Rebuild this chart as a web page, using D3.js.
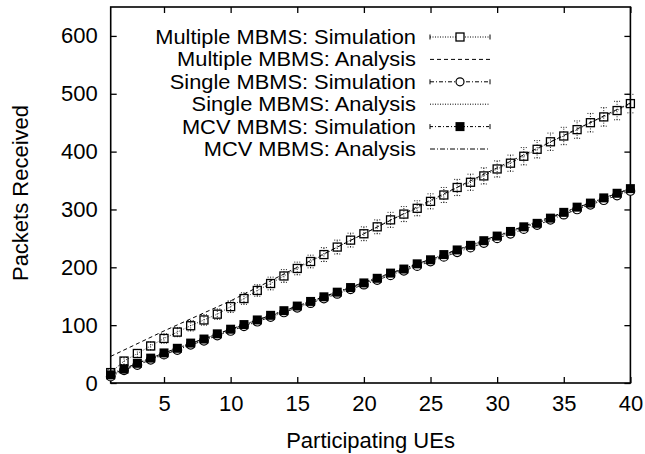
<!DOCTYPE html>
<html>
<head>
<meta charset="utf-8">
<title>packets received</title>
<style>
  html, body { margin: 0; padding: 0; background: #fff; }
  svg { display: block; font-family: "Liberation Sans", Arial, sans-serif; }
</style>
</head>
<body>
<svg id="chart" width="645" height="454"></svg>

<script src="https://cdn.jsdelivr.net/npm/d3@7"></script>
<script>
// x values: number of participating UEs
const ues = d3.range(1, 41);

// simulation results (one value per UE count)
const multipleSim = [18, 38, 51, 64, 77, 88, 99, 109, 119, 132, 146, 160, 172, 185, 198,
                     210, 222, 235, 247, 258, 270, 282, 292, 302, 314, 325, 338, 347, 358, 370,
                     380, 392, 404, 417, 427, 438, 450, 460, 471, 483];
const multipleErr = [5, 6, 7, 7, 8, 8, 9, 9, 9, 10, 10, 10, 11, 11, 11, 11, 12, 12, 12, 12,
                     12, 13, 13, 13, 13, 13, 14, 14, 14, 14, 14, 15, 15, 15, 15, 15, 16, 16, 16, 16];
const singleSim = [11, 22, 31, 40, 49, 57, 66, 73, 82, 90, 98, 106, 114, 122, 130,
                   138, 146, 154, 162, 170, 178, 186, 194, 202, 210, 218, 226, 234, 242, 250,
                   258, 266, 273, 282, 291, 300, 308, 316, 324, 332];
const mcvSim = [14, 24, 34, 43, 52, 60, 69, 76, 85, 93, 101, 109, 117, 125, 133,
                141, 149, 157, 165, 173, 181, 190, 197, 206, 213, 222, 230, 238, 246, 254,
                262, 270, 276, 285, 295, 304, 311, 320, 328, 336];

// analysis curves, read at a few x positions
const analysisX = [1, 5, 10, 15, 20, 25, 30, 35, 40];
const multipleAna = [46, 90, 142, 200, 258, 316, 372, 428, 484];
const singleAna = [14, 50, 91, 131, 172, 212, 253, 293, 334];
const mcvAna = [16, 52, 93, 133, 174, 214, 255, 295, 336];

const xTicks = [5, 10, 15, 20, 25, 30, 35, 40];
const yTicks = [0, 100, 200, 300, 400, 500, 600];

const legendLabels = ["Multiple MBMS: Simulation", "Multiple MBMS: Analysis",
                      "Single MBMS: Simulation", "Single MBMS: Analysis",
                      "MCV MBMS: Simulation", "MCV MBMS: Analysis"];

const plotL = 110.7, plotR = 630.4, plotT = 7, plotB = 383;

const svg = d3.select('#chart');

const x = d3.scaleLinear().domain([1, 40]).range([plotL, plotR]);
const y = d3.scaleLinear().domain([0, 650]).range([plotB, plotT]);

// axes, ticks pointing inward and mirrored
svg.append('g')
   .attr('transform', 'translate(0,' + plotB + ')')
   .call(d3.axisBottom(x).tickValues(xTicks).tickSizeInner(-6).tickSizeOuter(0).tickPadding(12))
   .call(g => g.select('.domain').remove());
svg.append('g')
   .attr('transform', 'translate(0,' + plotT + ')')
   .call(d3.axisTop(x).tickValues(xTicks).tickSizeInner(-6).tickSizeOuter(0).tickFormat(''))
   .call(g => g.select('.domain').remove());
svg.append('g')
   .attr('transform', 'translate(' + plotL + ',0)')
   .call(d3.axisLeft(y).tickValues(yTicks).tickSizeInner(-6).tickSizeOuter(0).tickPadding(13))
   .call(g => g.select('.domain').remove());
svg.append('g')
   .attr('transform', 'translate(' + plotR + ',0)')
   .call(d3.axisRight(y).tickValues(yTicks).tickSizeInner(-6).tickSizeOuter(0).tickFormat(''))
   .call(g => g.select('.domain').remove());

svg.selectAll('.tick line').attr('stroke', '#000').attr('stroke-width', 1.3);
svg.selectAll('.tick text').attr('font-size', 22).attr('fill', '#000')
   .attr('font-family', '"Liberation Sans", Arial, sans-serif');

svg.append('rect')
   .attr('x', plotL).attr('y', plotT)
   .attr('width', plotR - plotL).attr('height', plotB - plotT)
   .attr('fill', 'none').attr('stroke', '#000').attr('stroke-width', 1.6);

svg.append('text')
   .attr('x', (plotL + plotR) / 2).attr('y', 448)
   .attr('text-anchor', 'middle').attr('font-size', 22)
   .text('Participating UEs');

svg.append('text')
   .attr('transform', 'translate(28,193) rotate(-90)')
   .attr('text-anchor', 'middle').attr('font-size', 22)
   .text('Packets Received');

const plot = svg.append('g');

function drawLine(xs, ys, dash, width) {
  plot.append('path')
      .datum(xs.map((d, i) => [d, ys[i]]))
      .attr('fill', 'none').attr('stroke', '#000')
      .attr('stroke-width', width).attr('stroke-dasharray', dash)
      .attr('d', d3.line().x(d => x(d[0])).y(d => y(d[1])));
}

// analysis curves
drawLine(analysisX, multipleAna, '4,3', 1);
drawLine(analysisX, singleAna, '1,1.5', 1);
drawLine(analysisX, mcvAna, '5,2,1,2', 1);

// simulation connecting lines
drawLine(ues, multipleSim, '1,1.5', 0.8);
drawLine(ues, singleSim, '4,2,1,2', 0.8);
drawLine(ues, mcvSim, '3,2,1,2', 0.8);

// error bars for multiple simulation
const eb = plot.append('g').attr('stroke', '#000').attr('stroke-width', 0.9)
               .attr('stroke-dasharray', '1,1.5');
ues.forEach((u, i) => {
  const lo = y(multipleSim[i] - multipleErr[i]), hi = y(multipleSim[i] + multipleErr[i]);
  eb.append('line').attr('x1', x(u)).attr('x2', x(u)).attr('y1', lo).attr('y2', hi);
  eb.append('line').attr('x1', x(u) - 3).attr('x2', x(u) + 3).attr('y1', lo).attr('y2', lo);
  eb.append('line').attr('x1', x(u) - 3).attr('x2', x(u) + 3).attr('y1', hi).attr('y2', hi);
});

// markers
plot.selectAll('.circ').data(ues).enter().append('circle')
    .attr('cx', d => x(d)).attr('cy', (d, i) => y(singleSim[i])).attr('r', 4.3)
    .attr('fill', '#fff').attr('stroke', '#000').attr('stroke-width', 1.2);
plot.selectAll('.fsq').data(ues).enter().append('rect')
    .attr('x', d => x(d) - 4.5).attr('y', (d, i) => y(mcvSim[i]) - 4.5)
    .attr('width', 9).attr('height', 9).attr('fill', '#000');
plot.selectAll('.osq').data(ues).enter().append('rect')
    .attr('x', d => x(d) - 4).attr('y', (d, i) => y(multipleSim[i]) - 4)
    .attr('width', 8).attr('height', 8).attr('fill', 'none')
    .attr('stroke', '#000').attr('stroke-width', 1.3);

// legend
const legend = svg.append('g');
const styles = [
  {dash: '1,1.5', caps: true, marker: 'osq'},
  {dash: '4,3', caps: false, marker: null},
  {dash: '4,2,1,2', caps: true, marker: 'circ'},
  {dash: '1,1.5', caps: false, marker: null},
  {dash: '3,2,1,2', caps: true, marker: 'fsq'},
  {dash: '5,2,1,2', caps: false, marker: null}
];
legendLabels.forEach((lab, i) => {
  const ly = 37 + i * 22.4;
  const s = styles[i];
  // slightly condensed height, stretched wide like the original
  legend.append('text')
        .attr('transform', 'translate(416,' + ly + ') scale(1.12,1)')
        .attr('dy', '0.36em')
        .attr('text-anchor', 'end').attr('font-size', 19.5).text(lab);
  legend.append('line').attr('x1', 430).attr('x2', 490).attr('y1', ly).attr('y2', ly)
        .attr('stroke', '#000').attr('stroke-width', 1).attr('stroke-dasharray', s.dash);
  if (s.caps) {
    [430, 490].forEach(cx => legend.append('line')
        .attr('x1', cx).attr('x2', cx).attr('y1', ly - 2.5).attr('y2', ly + 2.5)
        .attr('stroke', '#000').attr('stroke-width', 1));
  }
  if (s.marker === 'osq') {
    legend.append('rect').attr('x', 456).attr('y', ly - 4).attr('width', 8).attr('height', 8)
          .attr('fill', '#fff').attr('stroke', '#000').attr('stroke-width', 1.3);
  } else if (s.marker === 'circ') {
    legend.append('circle').attr('cx', 460).attr('cy', ly).attr('r', 4)
          .attr('fill', '#fff').attr('stroke', '#000').attr('stroke-width', 1.2);
  } else if (s.marker === 'fsq') {
    legend.append('rect').attr('x', 455.5).attr('y', ly - 4.5).attr('width', 9).attr('height', 9)
          .attr('fill', '#000');
  }
});
</script>
</body>
</html>
